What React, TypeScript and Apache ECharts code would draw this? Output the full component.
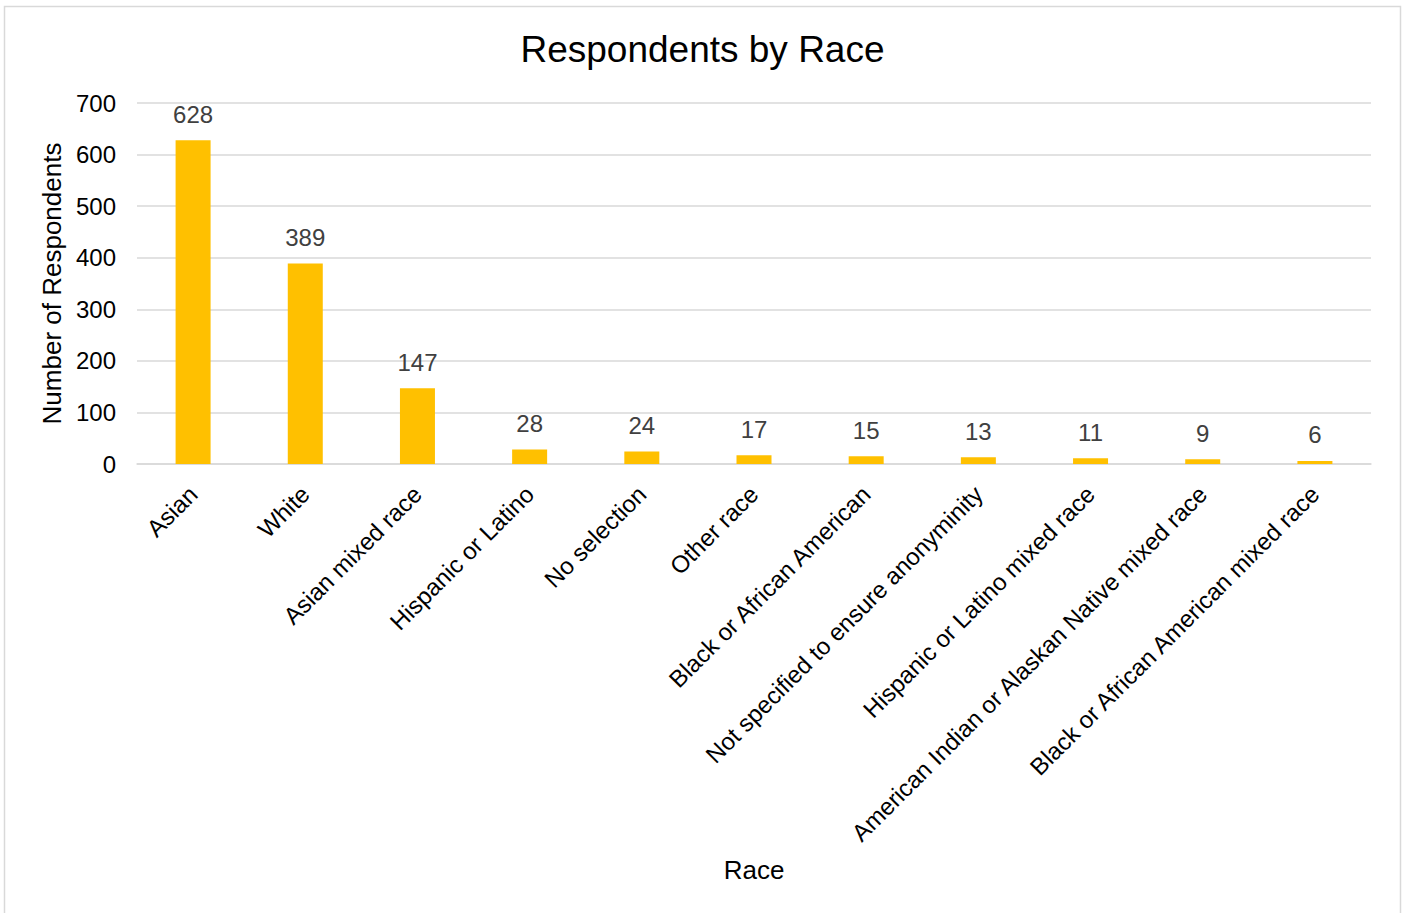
import React, { useEffect, useRef } from "react";
import * as echarts from "echarts";

const categories = [
  "Asian",
  "White",
  "Asian mixed race",
  "Hispanic or Latino",
  "No selection",
  "Other race",
  "Black or African American",
  "Not specified to ensure anonyminity",
  "Hispanic or Latino mixed race",
  "American Indian or Alaskan Native mixed race",
  "Black or African American mixed race",
];
const respondents = [628, 389, 147, 28, 24, 17, 15, 13, 11, 9, 6];
const titleText = "Respondents by Race";
const xAxisTitle = "Race";
const yAxisTitle = "Number of Respondents";

const FONT = "Liberation Sans, Arial, sans-serif";

export default function App() {
  const ref = useRef<HTMLDivElement>(null);
  useEffect(() => {
    if (!ref.current) return;
    const chart = echarts.init(ref.current, null, { renderer: "svg" });
    chart.setOption({
      animation: false,
      backgroundColor: "#ffffff",
      textStyle: { fontFamily: FONT },
      graphic: [
        {
          type: "rect",
          shape: { x: 4.5, y: 6.5, width: 1396, height: 930 },
          style: { fill: "none", stroke: "#d9d9d9", lineWidth: 1.5 },
          silent: true,
        },
      ],
      title: {
        text: titleText,
        left: "center",
        top: 26,
        textStyle: { fontFamily: FONT, fontSize: 37, fontWeight: "normal", color: "#000000" },
      },
      grid: { left: 137, right: 34, top: 103, bottom: 449, containLabel: false },
      xAxis: {
        type: "category",
        data: categories,
        name: xAxisTitle,
        nameLocation: "middle",
        nameGap: 393,
        nameTextStyle: { fontFamily: FONT, fontSize: 26, color: "#000000" },
        axisLine: { show: true, lineStyle: { color: "#d9d9d9", width: 1.5 } },
        axisTick: { show: false },
        axisLabel: {
          interval: 0,
          rotate: 45,
          margin: 26,
          fontFamily: FONT,
          fontSize: 24,
          color: "#000000",
        },
      },
      yAxis: {
        type: "value",
        min: 0,
        max: 700,
        interval: 100,
        name: yAxisTitle,
        nameLocation: "middle",
        nameGap: 69,
        nameTextStyle: { fontFamily: FONT, fontSize: 26, color: "#000000" },
        axisLine: { show: false },
        axisTick: { show: false },
        axisLabel: { margin: 21, fontFamily: FONT, fontSize: 24, color: "#000000" },
        splitLine: { lineStyle: { color: "#d9d9d9", width: 1.5 } },
      },
      series: [
        {
          type: "bar",
          data: respondents,
          barWidth: 35,
          itemStyle: { color: "#FFC000" },
          label: {
            show: true,
            position: "top",
            distance: 14,
            fontFamily: FONT,
            fontSize: 24,
            color: "#404040",
          },
        },
      ],
    });
    return () => chart.dispose();
  }, []);
  return (
    <div
      ref={ref}
      style={{ position: "absolute", left: 0, top: 0, width: 1405, height: 913 }}
    />
  );
}
